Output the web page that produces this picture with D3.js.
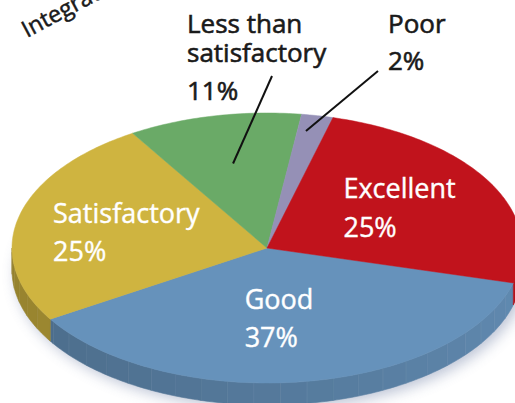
<!DOCTYPE html>
<html>
<head>
<meta charset="utf-8">
<script src="https://cdn.jsdelivr.net/npm/d3@7"></script>
<style>
  body { margin: 0; background: #fff; }
  svg { display: block; }
  text { font-family: "Open Sans", "Noto Sans", sans-serif; }
</style>
</head>
<body>
<svg id="chart" width="515" height="403"></svg>
<script>
// survey ratings, clockwise from the right edge
const categories = ["Good", "Satisfactory", "Less than satisfactory", "Poor", "Excellent"];
const values = [37, 25, 11, 2, 25];
const colors = ["#6692bb", "#cfb440", "#6aaa67", "#9590b6", "#c1131c"];
const valueLabels = ["37%", "25%", "11%", "2%", "25%"];

// pie geometry
const cx = 267, cy = 248, rx = 255, ry = 135, depth = 22;
const start = 105 * Math.PI / 180;

const svg = d3.select('#chart');
const defs = svg.append('defs');
defs.append('filter').attr('id', 'blur')
    .attr('x', '-20%').attr('y', '-20%').attr('width', '140%').attr('height', '140%')
    .append('feGaussianBlur').attr('stdDeviation', 7);

const xs = d3.scaleLinear().domain([-1, 1]).range([cx - rx, cx + rx]);
const ys = d3.scaleLinear().domain([-1, 1]).range([cy + ry, cy - ry]);
// a = d3 angle (clockwise from 12 o'clock), f = radius fraction
function proj(a, f) {
    return [xs(f * Math.sin(a)), ys(f * Math.cos(a))];
}

const pie = d3.pie().sort(null).startAngle(start).endAngle(start + 2 * Math.PI);
const arcs = pie(values);
const line = d3.line();
const step = Math.PI / 180;

function arcPoints(a0, a1, f, dy) {
    const pts = [];
    const n = Math.max(2, Math.ceil((a1 - a0) / step));
    for (let i = 0; i <= n; i++) {
        const p = proj(a0 + (a1 - a0) * i / n, f);
        pts.push([p[0], p[1] + dy]);
    }
    return pts;
}

// soft shadow under the whole disc
const outline = arcPoints(0, 2 * Math.PI, 1, 0);
svg.append('path')
    .attr('d', line(outline.map(p => [p[0] + 4, p[1] + depth + 4])) + 'Z')
    .attr('fill', '#6d7da3')
    .attr('opacity', 0.45)
    .attr('filter', 'url(#blur)');

// side wall, only the front half (screen angles 0..180) is visible
const side = svg.append('g').attr('id', 'side');
const facet = 6 * step;
arcs.forEach((d, i) => {
    [[Math.PI / 2, 3 * Math.PI / 2], [5 * Math.PI / 2, 7 * Math.PI / 2]].forEach(w => {
        const a0 = Math.max(d.startAngle, w[0]);
        const a1 = Math.min(d.endAngle, w[1]);
        if (a1 <= a0) return;
        for (let a = a0; a < a1; a += facet) {
            const b = Math.min(a + facet, a1);
            const top = arcPoints(a, b, 1, 0);
            const bottom = arcPoints(a, b, 1, depth).reverse();
            const theta = ((a + b) / 2 - w[0]) / Math.PI; // 0 right .. 1 left
            const shade = d3.color(colors[i]).darker(0.1 + 0.85 * theta);
            side.append('path')
                .attr('d', line(top.concat(bottom)) + 'Z')
                .attr('fill', shade)
                .attr('stroke', shade)
                .attr('stroke-width', 0.6);
            const p = proj(b, 1);
            if (b < a1) {
                side.append('line')
                    .attr('x1', p[0]).attr('y1', p[1])
                    .attr('x2', p[0]).attr('y2', p[1] + depth)
                    .attr('stroke', '#fff')
                    .attr('stroke-opacity', 0.12)
                    .attr('stroke-width', 1);
            }
        }
    });
});

// top faces
svg.append('g').attr('id', 'top')
    .selectAll('path')
    .data(arcs)
    .enter()
    .append('path')
    .attr('d', d => line([[cx, cy]].concat(arcPoints(d.startAngle, d.endAngle, 1, 0))) + 'Z')
    .attr('fill', (d, i) => colors[i])
    .attr('stroke', (d, i) => colors[i])
    .attr('stroke-width', 0.5);

// labels inside the slices: radius fraction, x shift, first baseline shift, line gap
const innerLabels = [
    { i: 0, f: 0.5, dx: -41, dy: -6, gap: 38 },
    { i: 1, f: 0.6, dx: -65, dy: -7, gap: 38 },
    { i: 4, f: 0.55, dx: -45, dy: -13, gap: 39 }
];
const inner = svg.append('g').attr('id', 'inner_labels');
innerLabels.forEach(l => {
    const d = arcs[l.i];
    const p = proj((d.startAngle + d.endAngle) / 2, l.f);
    const t = inner.append('text')
        .attr('fill', '#fff')
        .attr('stroke', '#fff')
        .attr('stroke-width', 0.4)
        .attr('font-size', 27);
    [categories[l.i], valueLabels[l.i]].forEach((s, k) => {
        t.append('tspan')
            .attr('x', p[0] + l.dx)
            .attr('y', p[1] + l.dy + k * l.gap)
            .text(s);
    });
});

// labels outside with leader lines
const outerLabels = [
    { i: 2, lines: ["Less than", "satisfactory", valueLabels[2]], x: 187, ys: [33, 62, 100],
      from: [272, 76], f: 0.64 },
    { i: 3, lines: ["Poor", valueLabels[3]], x: 388, ys: [33, 70],
      from: [378, 71], f: 0.88 }
];
const outer = svg.append('g').attr('id', 'outer_labels');
outerLabels.forEach(l => {
    const d = arcs[l.i];
    const p = proj((d.startAngle + d.endAngle) / 2 - (l.i == 3 ? 1.4 * step : 0), l.f);
    outer.append('line')
        .attr('x1', l.from[0]).attr('y1', l.from[1])
        .attr('x2', p[0]).attr('y2', p[1])
        .attr('stroke', '#111')
        .attr('stroke-width', 2);
    const t = outer.append('text')
        .attr('fill', '#1a1a1a')
        .attr('stroke', '#1a1a1a')
        .attr('stroke-width', 0.6)
        .attr('font-size', 26);
    l.lines.forEach((s, k) => {
        t.append('tspan').attr('x', l.x).attr('y', l.ys[k]).text(s);
    });
});

// cut-off heading in the corner
svg.append('text')
    .attr('transform', 'translate(27,38) rotate(-28)')
    .attr('fill', '#1a1a1a')
    .attr('stroke', '#1a1a1a')
    .attr('stroke-width', 0.5)
    .attr('font-size', 23)
    .text('Integrated');
</script>
</body>
</html>
